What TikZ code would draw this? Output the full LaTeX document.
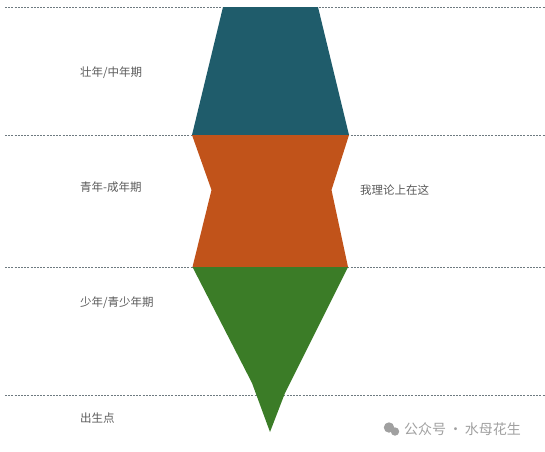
\documentclass[tikz,border=0pt]{standalone}
\usepackage{fontspec}
\setmainfont{Noto Sans CJK SC}
\usetikzlibrary{positioning}
\definecolor{adult}{HTML}{1F5C6B}
\definecolor{young}{HTML}{C1531A}
\definecolor{teen}{HTML}{3B7C27}
\definecolor{txt}{HTML}{5A5A5A}
\definecolor{wmark}{HTML}{A0A0A0}
\definecolor{line}{HTML}{6E7A80}

\begin{document}
\begin{tikzpicture}[x=1pt,y=1pt,
  lbl/.style={anchor=west,font=\fontsize{11.5}{13}\selectfont,text=txt,inner sep=0pt},
  border/.style={line,line width=0.55pt,dash pattern=on 2pt off 1.2pt}]
  \useasboundingbox (0,0) rectangle (545,-451);

  % stage borders
  \foreach \y in {-7,-135,-267,-395} {
    \draw[border] (5,\y) -- (545,\y);
  }

  % stages
  \fill[adult] (223,-7) -- (318,-7) -- (349,-135) -- (192,-135) -- cycle;   % adult
  \fill[young] (192,-135) -- (349,-135) -- (331.5,-190) -- (348,-267)
               -- (192.5,-267) -- (211.5,-190) -- cycle;                    % youth
  \fill[teen] (192.5,-267) -- (348,-267) -- (285,-393) -- (270,-432)
              -- (252,-383) -- cycle;                                       % childhood

  % labels
  \node[lbl] (mid) at (80,-73) {壮年/中年期};
  \node[lbl] (youth) at (80,-187) {青年-成年期};
  \node[lbl] (teen) at (80,-302.5) {少年/青少年期};
  \node[lbl] (birth) at (80,-418) {出生点};
  \node[lbl] (me) at (360,-190) {我理论上在这};

  % watermark
  \node[lbl,text=wmark,font=\fontsize{14}{16}\selectfont] (wm) at (404,-429) {公众号\,·\,水母花生};
  \fill[wmark] (389,-427.5) circle (5.2);
  \fill[wmark] (395,-431.5) circle (4.2);
\end{tikzpicture}
\end{document}
